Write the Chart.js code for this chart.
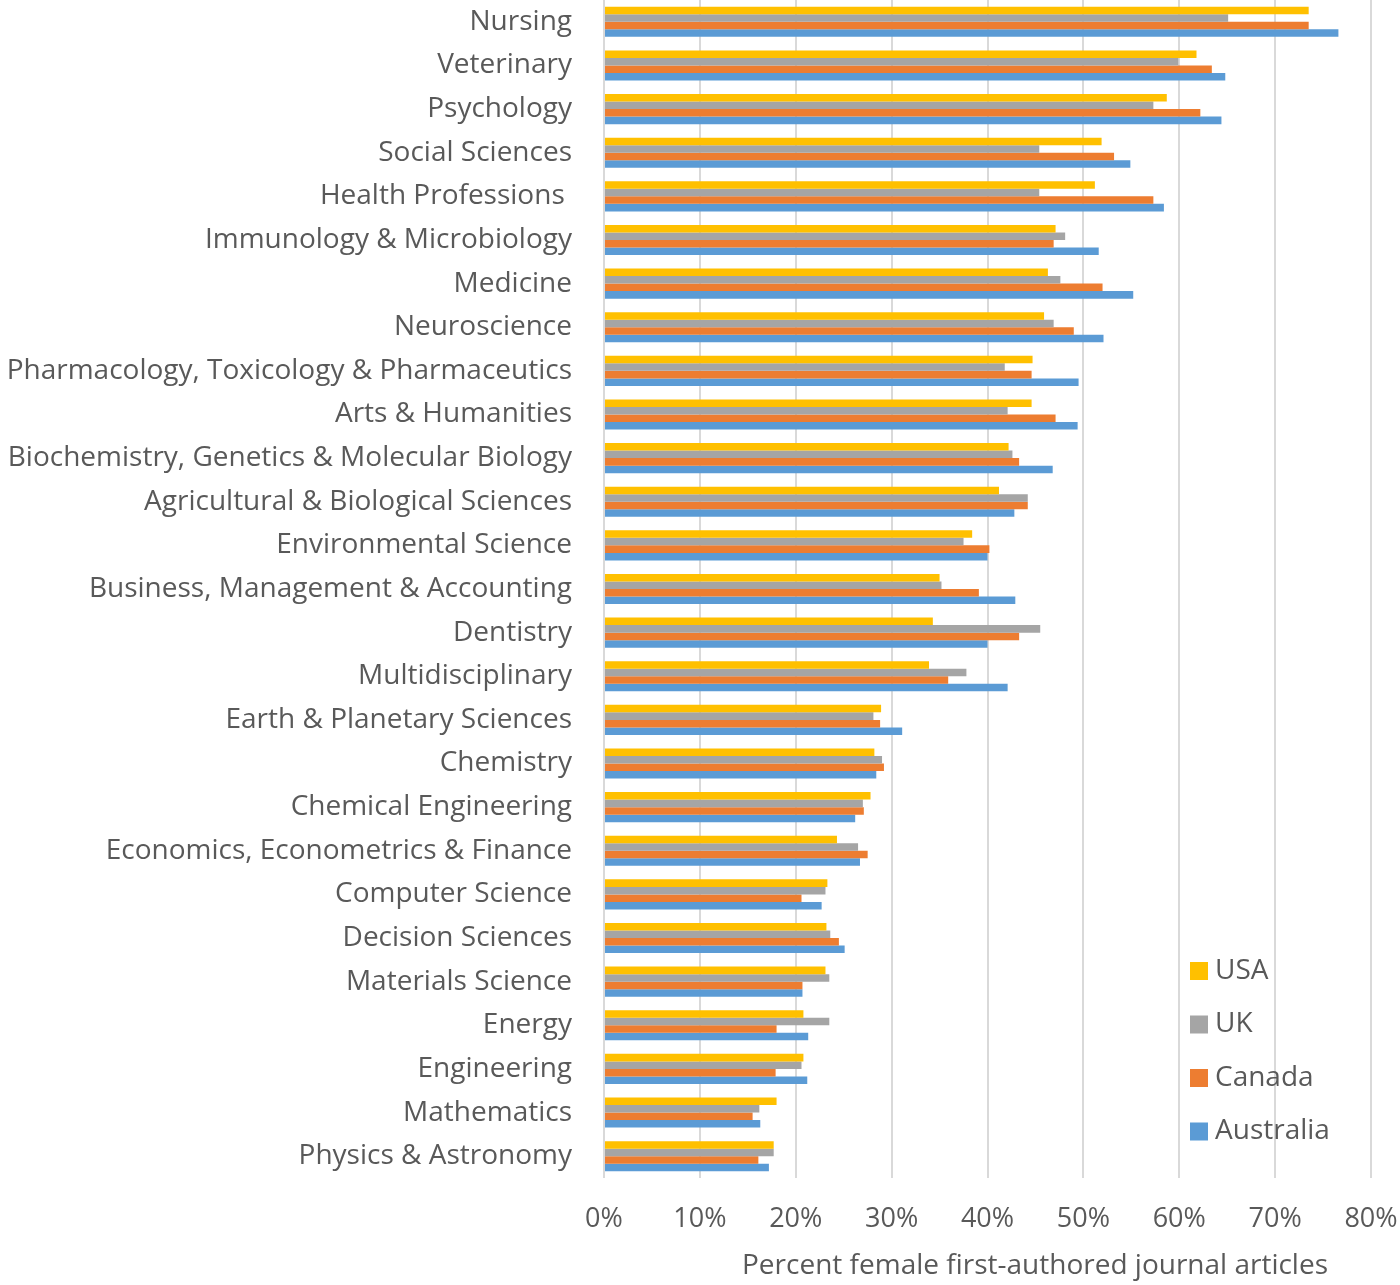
<!DOCTYPE html>
<html>
<head>
<meta charset="utf-8">
<script src="https://cdn.jsdelivr.net/npm/chart.js@4/dist/chart.umd.min.js"></script>
<style>
  html, body { margin: 0; padding: 0; background: #fff; }
  #wrap { width: 1400px; height: 1285px; position: relative; }
</style>
</head>
<body>
<div id="wrap"><canvas id="fieldChart"></canvas></div>
<script>
// categories, top to bottom
var fields = ['Nursing', 'Veterinary', 'Psychology', 'Social Sciences', 'Health Professions ',
    'Immunology & Microbiology', 'Medicine', 'Neuroscience', 'Pharmacology, Toxicology & Pharmaceutics',
    'Arts & Humanities', 'Biochemistry, Genetics & Molecular Biology', 'Agricultural & Biological Sciences',
    'Environmental Science', 'Business, Management & Accounting', 'Dentistry', 'Multidisciplinary',
    'Earth & Planetary Sciences', 'Chemistry', 'Chemical Engineering', 'Economics, Econometrics & Finance',
    'Computer Science', 'Decision Sciences', 'Materials Science', 'Energy', 'Engineering',
    'Mathematics', 'Physics & Astronomy'];

// percent female first authors
var usa = [73.5, 61.8, 58.7, 51.9, 51.2, 47.1, 46.3, 45.9, 44.7, 44.6, 42.2, 41.2, 38.4, 35.0, 34.3,
    33.9, 28.9, 28.2, 27.8, 24.3, 23.3, 23.2, 23.1, 20.8, 20.8, 18.0, 17.7];
var uk = [65.1, 59.9, 57.3, 45.4, 45.4, 48.1, 47.6, 46.9, 41.8, 42.1, 42.6, 44.2, 37.5, 35.2, 45.5,
    37.8, 28.1, 29.0, 27.0, 26.5, 23.1, 23.6, 23.5, 23.5, 20.6, 16.2, 17.7];
var canada = [73.5, 63.4, 62.2, 53.2, 57.3, 46.9, 52.0, 49.0, 44.6, 47.1, 43.3, 44.2, 40.2, 39.1, 43.3,
    35.9, 28.8, 29.2, 27.1, 27.5, 20.6, 24.5, 20.7, 18.0, 17.9, 15.5, 16.1];
var australia = [76.6, 64.8, 64.4, 54.9, 58.4, 51.6, 55.2, 52.1, 49.5, 49.4, 46.8, 42.8, 40.0, 42.9, 40.0,
    42.1, 31.1, 28.4, 26.2, 26.7, 22.7, 25.1, 20.7, 21.3, 21.2, 16.3, 17.2];

var seriesNames = ['USA', 'UK', 'Canada', 'Australia'];
var seriesColors = ['#FFC000', '#A5A5A5', '#ED7D31', '#5B9BD5'];

var xMin = 0, xMax = 80, xStep = 10;
var axisTitle = 'Percent female first-authored journal articles';

var textColor = '#595959';
var fontFamily = '"Open Sans", "Noto Sans", sans-serif';

// legend inside the plot (lower right) and the x axis title, placed like the Excel original
var extras = {
    id: 'extras',
    afterDraw: function(chart) {
        var ctx = chart.ctx;
        ctx.save();
        ctx.font = '28px ' + fontFamily;
        ctx.textBaseline = 'middle';
        ctx.textAlign = 'left';
        chart.data.datasets.forEach(function(ds, i) {
            var y = 971 + i * 53.5;
            ctx.fillStyle = ds.backgroundColor;
            ctx.fillRect(1190, y - 9, 18, 18);
            ctx.fillStyle = textColor;
            ctx.fillText(ds.label, 1215, y);
        });
        ctx.textAlign = 'center';
        ctx.fillText(axisTitle, 1035, 1266);
        ctx.restore();
    }
};

var datasets = [usa, uk, canada, australia].map(function(vals, i) {
    return {
        label: seriesNames[i],
        data: vals,
        backgroundColor: seriesColors[i],
        borderWidth: 0,
        categoryPercentage: 0.69,
        barPercentage: 1.0
    };
});

var ctx = document.getElementById('fieldChart').getContext('2d');
var fieldChart = new Chart(ctx, {
    type: 'bar',
    data: {
        labels: fields,
        datasets: datasets
    },
    options: {
        indexAxis: 'y',
        responsive: true,
        maintainAspectRatio: false,
        animation: false,
        layout: { padding: { top: 0, right: 29, bottom: 0, left: 0 } },
        plugins: {
            legend: { display: false },
            tooltip: { enabled: false }
        },
        scales: {
            x: {
                min: xMin,
                max: xMax,
                ticks: {
                    stepSize: xStep,
                    color: textColor,
                    font: { family: fontFamily, size: 27 },
                    padding: 25,
                    callback: function(v) { return v + '%'; }
                },
                grid: {
                    color: '#D9D9D9',
                    lineWidth: 2,
                    drawTicks: false
                },
                border: { display: false },
                afterFit: function(scale) {
                    scale.height = 107;
                    scale.paddingLeft = 0;
                    scale.paddingRight = 0;
                }
            },
            y: {
                ticks: {
                    color: textColor,
                    font: { family: fontFamily, size: 28 },
                    padding: 24,
                    autoSkip: false
                },
                grid: { display: false },
                border: { display: false },
                afterFit: function(scale) {
                    scale.width = 604;
                    scale.paddingTop = 0;
                    scale.paddingBottom = 0;
                }
            }
        }
    },
    plugins: [extras]
});
</script>
</body>
</html>
